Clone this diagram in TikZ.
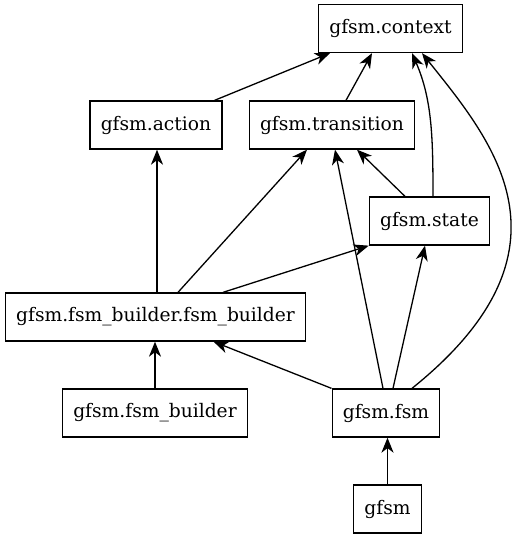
\documentclass[tikz,border=0pt]{standalone}
\usepackage{fontspec}
\setmainfont{DejaVu Serif}
\usetikzlibrary{arrows.meta}
\begin{document}
\begin{tikzpicture}[x=1pt,y=-1pt,
  box/.style={draw, line width=1.3pt, rectangle, inner xsep=10.7pt, inner ysep=0pt, minimum height=48pt, font=\fontsize{18.67pt}{22pt}\selectfont},
  arr/.style={line width=1.3pt, -{Stealth[length=15pt,width=12pt,inset=4.5pt]}}]
\useasboundingbox (0,0) rectangle (514,539);
\node[box] (context) at (390.5,28.5) {gfsm.context};
\node[box] (action) at (156,125) {gfsm.action};
\node[box] (transition) at (332,125) {gfsm.transition};
\node[box] (state) at (429.5,221) {gfsm.state};
\node[box] (fb) at (155.5,317) {gfsm.fsm\_builder.fsm\_builder};
\node[box] (builder) at (155,413) {gfsm.fsm\_builder};
\node[box] (fsm) at (386,413) {gfsm.fsm};
\node[box] (gfsm) at (387.5,509) {gfsm};

\draw[arr] ([xshift=-8pt]action.north east) -- ([xshift=12pt]context.south west);
\draw[arr] ([xshift=14pt]transition.north) -- ([xshift=-18.5pt]context.south);
\draw[arr] ([xshift=3.5pt]state.north) .. controls ([xshift=3.5pt,yshift=60pt]state.north) and ([xshift=41.5pt,yshift=-46pt]context.south) .. ([xshift=21.5pt]context.south);
\draw[arr] ([xshift=26pt]fsm.north) .. controls ([xshift=199pt,yshift=139pt]fsm.north) and ([xshift=101.5pt,yshift=-87.5pt]context.south) .. ([xshift=31.5pt]context.south);
\draw[arr] ([xshift=1.5pt]fb.north) -- ([xshift=1pt]action.south);
\draw[arr] ([xshift=22.5pt]fb.north) -- ([xshift=-25pt]transition.south);
\draw[arr] ([xshift=67.5pt]fb.north) -- (state.south west);
\draw[arr] ([xshift=-24.5pt]state.north) -- ([xshift=25pt]transition.south);
\draw[arr] ([xshift=-3pt]fsm.north) -- ([xshift=3pt]transition.south);
\draw[arr] ([xshift=7pt]fsm.north) -- ([xshift=-4.5pt]state.south);
\draw[arr] (fsm.north west) -- ([xshift=58pt]fb.south);
\draw[arr] (builder.north) -- (builder.north |- fb.south);
\draw[arr] (gfsm.north) -- (gfsm.north |- fsm.south);
\end{tikzpicture}
\end{document}
